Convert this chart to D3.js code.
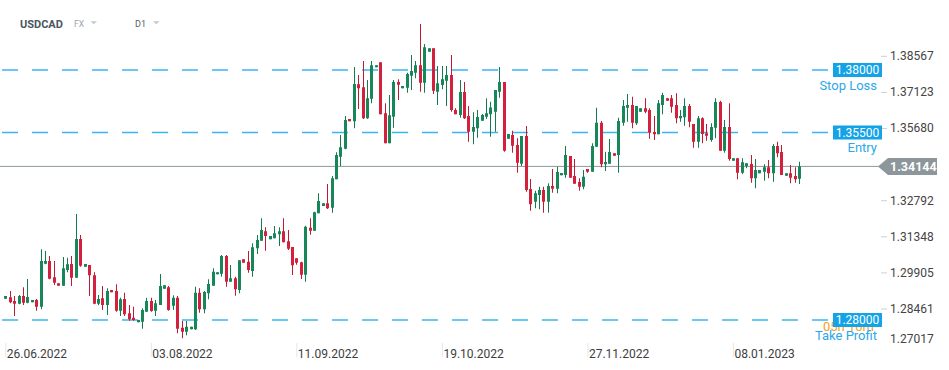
<!DOCTYPE html>
<html><head><meta charset="utf-8">
<script src="https://cdn.jsdelivr.net/npm/d3@7"></script>
<style>body{margin:0;background:#fff;}svg{display:block;font-family:Roboto,"Noto Sans",sans-serif;}</style>
</head><body><svg id="c" width="949" height="370"></svg>
<script>
const symbol = "USDCAD", market = "FX", timeframe = "D1";
const opens = [
1.2885,1.2891,1.2876,1.2865,1.2896,1.2869,1.2871,1.2880,1.2853,1.3025,
1.3036,1.2971,1.2947,1.2937,1.3000,1.3024,1.2969,1.3124,1.3013,1.3020,
1.2979,1.2865,1.2887,1.2860,1.2920,1.2916,1.2837,1.2884,1.2827,1.2809,
1.2791,1.2793,1.2833,1.2876,1.2837,1.2860,1.2925,1.2931,1.2857,1.2889,
1.2769,1.2753,1.2763,1.2763,1.2909,1.2843,1.2907,1.2937,1.2983,1.2985,
1.3056,1.2953,1.2967,1.2920,1.3043,1.3033,1.2996,1.3087,1.3117,1.3155,
1.3123,1.3127,1.3143,1.3155,1.3115,1.3092,1.3047,1.3031,1.2981,1.3169,
1.3157,1.3227,1.3256,1.3267,1.3249,1.3363,1.3453,1.3485,1.3604,1.3595,
1.3743,1.3731,1.3607,1.3685,1.3811,1.3831,1.3627,1.3507,1.3613,1.3752,
1.3727,1.3729,1.3777,1.3789,1.3819,1.3749,1.3873,1.3887,1.3713,1.3740,
1.3757,1.3780,1.3640,1.3620,1.3712,1.3616,1.3553,1.3567,1.3597,1.3613,
1.3623,1.3633,1.3713,1.3752,1.3525,1.3540,1.3500,1.3425,1.3536,1.3324,
1.3273,1.3300,1.3320,1.3273,1.3336,1.3325,1.3379,1.3380,1.3456,1.3376,
1.3352,1.3333,1.3404,1.3393,1.3493,1.3589,1.3423,1.3425,1.3467,1.3460,
1.3589,1.3649,1.3660,1.3587,1.3633,1.3647,1.3640,1.3552,1.3543,1.3660,
1.3687,1.3687,1.3660,1.3607,1.3611,1.3656,1.3584,1.3513,1.3607,1.3547,
1.3520,1.3569,1.3672,1.3477,1.3572,1.3437,1.3447,1.3389,1.3416,1.3424,
1.3367,1.3387,1.3393,1.3411,1.3387,1.3496,1.3472,1.3377,1.3387,1.3376,
1.3365];
const highs = [
1.2896,1.2916,1.2896,1.2900,1.2931,1.2964,1.2880,1.2884,1.3083,1.3076,
1.3056,1.3036,1.2947,1.3052,1.3049,1.3056,1.3224,1.3140,1.3024,1.3020,
1.2991,1.2900,1.2936,1.2927,1.2920,1.2943,1.2889,1.2909,1.2860,1.2853,
1.2800,1.2847,1.2889,1.2889,1.2880,1.2984,1.2939,1.2936,1.2899,1.2896,
1.2796,1.2796,1.2773,1.2933,1.2927,1.2916,1.2963,1.3007,1.2991,1.3060,
1.3060,1.3020,1.2973,1.3039,1.3043,1.3076,1.3107,1.3140,1.3207,1.3171,
1.3136,1.3176,1.3171,1.3207,1.3160,1.3092,1.3047,1.3033,1.3177,1.3207,
1.3233,1.3307,1.3267,1.3344,1.3376,1.3471,1.3540,1.3616,1.3604,1.3812,
1.3780,1.3836,1.3760,1.3836,1.3819,1.3831,1.3667,1.3700,1.3760,1.3763,
1.3736,1.3789,1.3860,1.3836,1.3984,1.3904,1.3887,1.3887,1.3816,1.3816,
1.3816,1.3860,1.3647,1.3760,1.3752,1.3656,1.3631,1.3640,1.3624,1.3687,
1.3673,1.3720,1.3812,1.3752,1.3544,1.3557,1.3527,1.3536,1.3576,1.3364,
1.3317,1.3333,1.3333,1.3347,1.3404,1.3413,1.3388,1.3496,1.3456,1.3444,
1.3367,1.3400,1.3404,1.3507,1.3649,1.3596,1.3473,1.3524,1.3467,1.3609,
1.3680,1.3704,1.3693,1.3656,1.3647,1.3687,1.3647,1.3616,1.3680,1.3709,
1.3687,1.3700,1.3707,1.3640,1.3687,1.3664,1.3584,1.3616,1.3611,1.3584,
1.3587,1.3687,1.3677,1.3600,1.3667,1.3447,1.3447,1.3447,1.3427,1.3460,
1.3444,1.3400,1.3423,1.3440,1.3504,1.3513,1.3500,1.3387,1.3420,1.3411,
1.3433];
const lows = [
1.2885,1.2867,1.2816,1.2863,1.2860,1.2867,1.2871,1.2837,1.2843,1.3023,
1.2963,1.2940,1.2937,1.2937,1.2991,1.2936,1.2969,1.3013,1.3013,1.2896,
1.2863,1.2859,1.2840,1.2820,1.2911,1.2833,1.2816,1.2816,1.2797,1.2797,
1.2791,1.2765,1.2833,1.2833,1.2816,1.2860,1.2925,1.2837,1.2840,1.2747,
1.2727,1.2739,1.2763,1.2760,1.2829,1.2827,1.2883,1.2937,1.2983,1.2973,
1.2933,1.2953,1.2897,1.2907,1.3029,1.2989,1.2973,1.3064,1.3117,1.3077,
1.3123,1.3127,1.3096,1.3111,1.3080,1.2980,1.3021,1.2964,1.2953,1.3141,
1.3157,1.3227,1.3256,1.3244,1.3229,1.3363,1.3416,1.3483,1.3595,1.3567,
1.3644,1.3604,1.3604,1.3667,1.3811,1.3623,1.3507,1.3507,1.3569,1.3680,
1.3727,1.3709,1.3720,1.3767,1.3713,1.3709,1.3873,1.3704,1.3660,1.3723,
1.3656,1.3633,1.3623,1.3609,1.3604,1.3513,1.3503,1.3529,1.3597,1.3605,
1.3533,1.3553,1.3689,1.3473,1.3525,1.3469,1.3389,1.3416,1.3313,1.3237,
1.3247,1.3243,1.3229,1.3229,1.3309,1.3307,1.3379,1.3369,1.3369,1.3345,
1.3317,1.3323,1.3389,1.3393,1.3493,1.3411,1.3396,1.3425,1.3457,1.3389,
1.3577,1.3593,1.3567,1.3580,1.3633,1.3627,1.3525,1.3520,1.3543,1.3623,
1.3677,1.3629,1.3587,1.3593,1.3577,1.3571,1.3489,1.3489,1.3507,1.3517,
1.3513,1.3527,1.3477,1.3469,1.3437,1.3437,1.3363,1.3384,1.3407,1.3349,
1.3327,1.3387,1.3357,1.3367,1.3353,1.3451,1.3380,1.3377,1.3347,1.3349,
1.3344];
const closes = [
1.2896,1.2871,1.2865,1.2896,1.2869,1.2892,1.2880,1.2853,1.3036,1.3036,
1.2965,1.2949,1.2937,1.3007,1.3023,1.2969,1.3124,1.3017,1.3024,1.2979,
1.2865,1.2884,1.2860,1.2916,1.2911,1.2837,1.2883,1.2823,1.2803,1.2800,
1.2800,1.2840,1.2876,1.2836,1.2867,1.2936,1.2939,1.2840,1.2889,1.2765,
1.2753,1.2773,1.2773,1.2909,1.2843,1.2912,1.2944,1.2993,1.2991,1.3056,
1.2953,1.2967,1.2923,1.3039,1.3029,1.3000,1.3091,1.3120,1.3160,1.3136,
1.3136,1.3147,1.3155,1.3111,1.3085,1.3019,1.3029,1.2981,1.3173,1.3157,
1.3231,1.3276,1.3267,1.3247,1.3367,1.3460,1.3491,1.3600,1.3595,1.3744,
1.3727,1.3607,1.3687,1.3819,1.3819,1.3623,1.3507,1.3619,1.3752,1.3741,
1.3736,1.3784,1.3796,1.3819,1.3749,1.3891,1.3887,1.3717,1.3747,1.3763,
1.3780,1.3640,1.3623,1.3712,1.3607,1.3553,1.3572,1.3612,1.3620,1.3627,
1.3650,1.3720,1.3752,1.3477,1.3544,1.3497,1.3429,1.3536,1.3320,1.3263,
1.3307,1.3320,1.3273,1.3336,1.3325,1.3392,1.3388,1.3460,1.3369,1.3345,
1.3333,1.3373,1.3393,1.3496,1.3589,1.3423,1.3432,1.3472,1.3457,1.3596,
1.3656,1.3660,1.3589,1.3656,1.3647,1.3633,1.3549,1.3543,1.3667,1.3700,
1.3677,1.3653,1.3607,1.3616,1.3656,1.3593,1.3513,1.3607,1.3544,1.3537,
1.3572,1.3672,1.3477,1.3572,1.3444,1.3447,1.3389,1.3431,1.3427,1.3367,
1.3400,1.3400,1.3411,1.3387,1.3496,1.3467,1.3380,1.3387,1.3369,1.3363,
1.34144];
const dateTickIndex = [0, 33, 66, 99, 132, 165];
const dateTickLabels = ["26.06.2022", "03.08.2022", "11.09.2022", "19.10.2022", "27.11.2022", "08.01.2023"];
const priceTicks = [1.38567, 1.37123, 1.35680, 1.32792, 1.31348, 1.29905, 1.28461, 1.27017];
const levelNames = ["Stop Loss", "Entry", "Take Profit"];
const levelValues = [1.38000, 1.35500, 1.28000];
const lastPrice = 1.34144;
const countdownText = "05h 10m";

const svg = d3.select("#c");
const W = 949, H = 370;
svg.append("rect").attr("width", W).attr("height", H).attr("fill", "#fff");

const n = closes.length;
const x = d3.scaleLinear().domain([0, 180]).range([5.3, 799.1]);
const y = d3.scaleLinear().domain([1.28, 1.38]).range([320, 70]);
const fmt = d3.format(".5f");

// header
const hdr = svg.append("g");
hdr.append("text").attr("x", 20).attr("y", 27.5).attr("font-size", 11).attr("font-weight", "bold").attr("fill", "#4a5661").text(symbol);
hdr.append("text").attr("x", 74).attr("y", 27).attr("font-size", 8.5).attr("fill", "#9aa3ab").text(market);
hdr.append("path").attr("d", "M90.5,21.3 L97,21.3 L93.75,24.3 Z").attr("fill", "#c4c9cd");
hdr.append("text").attr("x", 135).attr("y", 27).attr("font-size", 9).attr("fill", "#56616b").text(timeframe);
hdr.append("path").attr("d", "M153,21.3 L159.5,21.3 L156.25,24.3 Z").attr("fill", "#c4c9cd");

// bottom axis
const xAxis = d3.axisBottom(x).tickValues(dateTickIndex).tickFormat((d, i) => dateTickLabels[i]).tickSize(14).tickPadding(0);
const gx = svg.append("g").attr("transform", "translate(0,343)").call(xAxis);
gx.select(".domain").remove();
gx.selectAll(".tick line").attr("stroke", "#e6e6e6");
gx.selectAll(".tick text").attr("text-anchor", "start").attr("x", 1).attr("y", 14.5).attr("dy", null)
  .attr("font-size", 12).attr("fill", "#3d3d3d").attr("font-family", "Roboto, sans-serif");

// right axis
const yAxis = d3.axisRight(y).tickValues(priceTicks).tickFormat(fmt).tickSize(6).tickPadding(3);
const gy = svg.append("g").attr("transform", "translate(881,0)").call(yAxis);
gy.select(".domain").remove();
gy.selectAll(".tick line").attr("stroke", "#d0d0d0");
gy.selectAll(".tick text").attr("font-size", 12).attr("fill", "#444").attr("font-family", "Roboto, sans-serif");
gy.selectAll(".tick").filter(d => y(d) > 340).attr("transform", "translate(0,339.5)").select("line").remove();

// current price line
svg.append("line").attr("x1", 0).attr("x2", 880).attr("y1", y(lastPrice)).attr("y2", y(lastPrice))
  .attr("stroke", "#8c969b").attr("stroke-width", 1);

// level dashed lines
svg.selectAll(".lvl").data(levelValues).join("line").attr("class", "lvl")
  .attr("x1", 2).attr("x2", 828).attr("y1", d => y(d)).attr("y2", d => y(d))
  .attr("stroke", "#3bb5f2").attr("stroke-width", 1.3).attr("stroke-dasharray", "16,14");

// candles
const up = "#17875a", down = "#d3203c";
const g = svg.append("g");
const idx = d3.range(n);
g.selectAll(".wick").data(idx).join("line").attr("class", "wick")
  .attr("x1", i => Math.round(x(i)) + 0.5).attr("x2", i => Math.round(x(i)) + 0.5)
  .attr("y1", i => y(highs[i])).attr("y2", i => y(lows[i]))
  .attr("stroke", i => closes[i] >= opens[i] ? "#147a50" : "#c01a35").attr("stroke-width", 1);
g.selectAll(".body").data(idx).join("rect").attr("class", "body")
  .attr("x", i => Math.round(x(i)) - 1)
  .attr("width", 3)
  .attr("y", i => y(Math.max(opens[i], closes[i])))
  .attr("height", i => Math.max(2, Math.abs(y(opens[i]) - y(closes[i]))))
  .attr("fill", i => closes[i] >= opens[i] ? up : down);

// countdown text (behind TP box)
svg.append("text").attr("x", 823).attr("y", 331).attr("font-size", 13).attr("fill", "#f7a021").text(countdownText);

// level boxes and labels
const lv = svg.selectAll(".lvbox").data(levelValues).join("g").attr("class", "lvbox");
lv.append("rect").attr("x", 833).attr("width", 49).attr("y", d => y(d) - 7).attr("height", 14).attr("fill", "#14a3e6");
lv.append("text").attr("x", 857.5).attr("y", d => y(d)).attr("dy", "0.35em").attr("text-anchor", "middle")
  .attr("font-size", 12).attr("fill", "#fff").text(d => fmt(d));
lv.append("text").attr("x", 877).attr("y", d => y(d) + 15).attr("dy", "0.35em").attr("text-anchor", "end")
  .attr("font-size", 13).attr("fill", "#2ba8e8").text((d, i) => levelNames[i]);

// last price box
const ly = y(lastPrice);
svg.append("path").attr("d", `M878,${ly} L888,${ly - 8.5} L937,${ly - 8.5} L937,${ly + 8.5} L888,${ly + 8.5} Z`).attr("fill", "#8c969b");
svg.append("text").attr("x", 890).attr("y", ly).attr("dy", "0.35em").attr("font-size", 12.5).attr("font-weight", "bold")
  .attr("fill", "#fff").text(fmt(lastPrice));
</script></body></html>
